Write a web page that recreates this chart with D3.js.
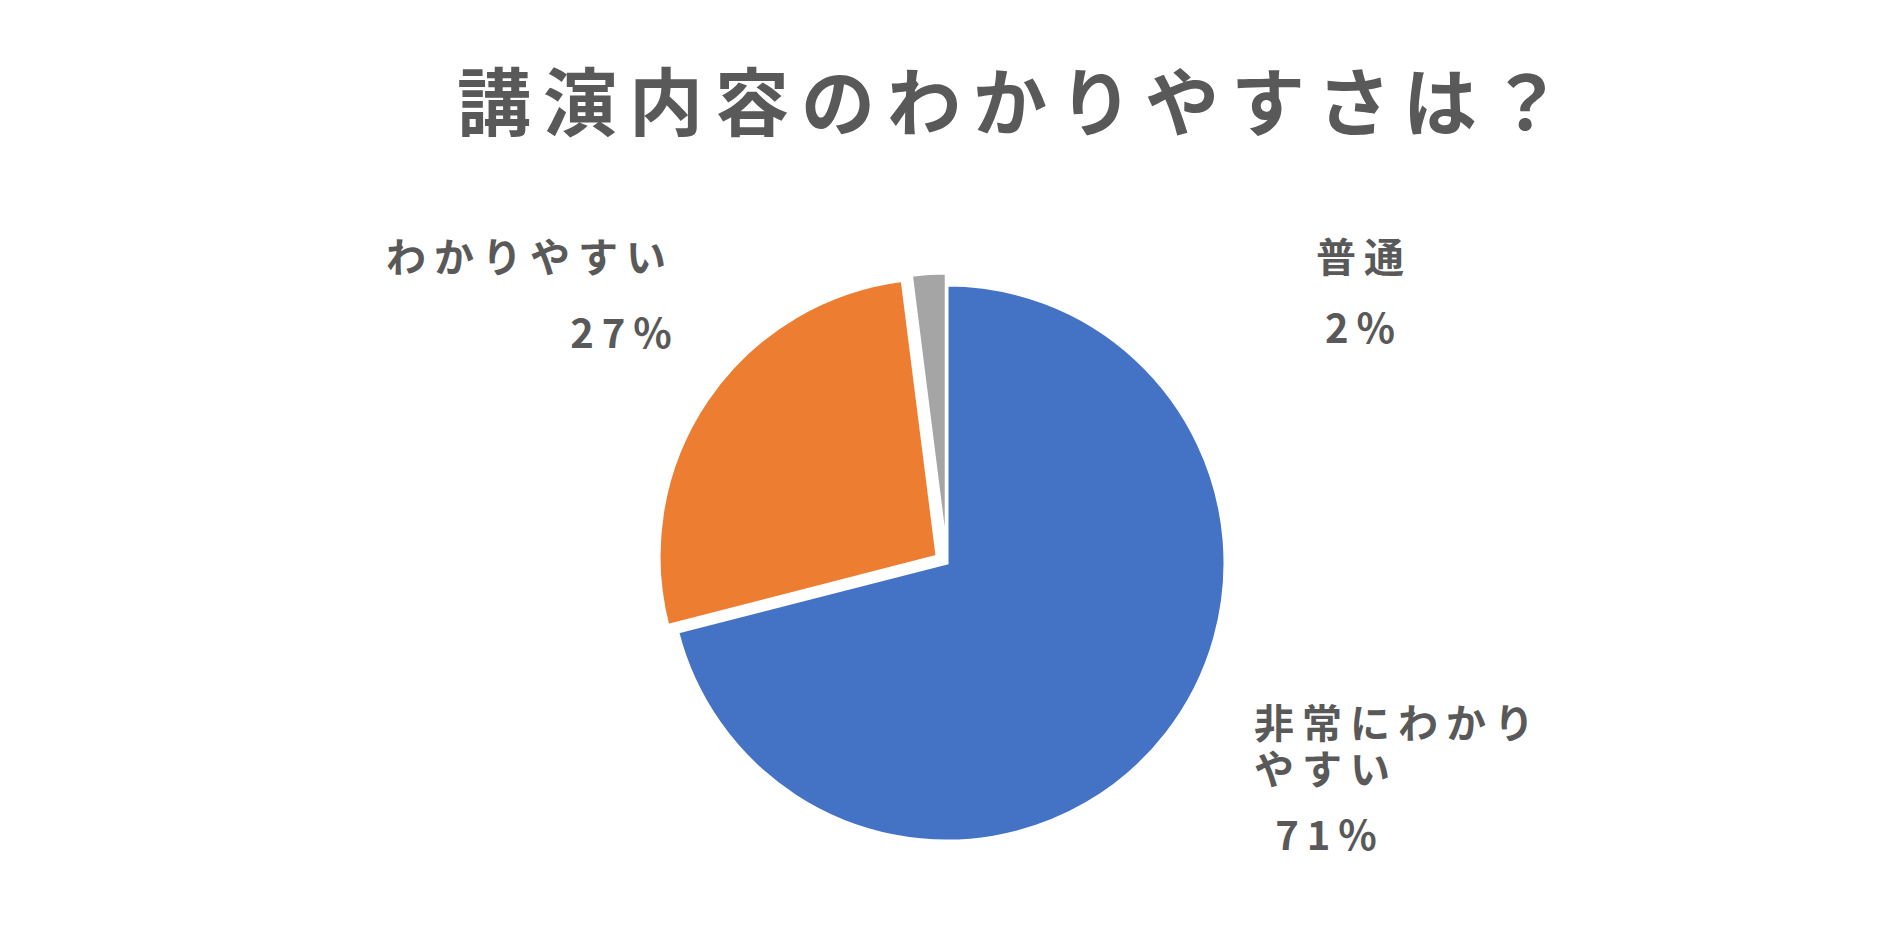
<!DOCTYPE html>
<html><head><meta charset="utf-8">
<script src="https://cdn.jsdelivr.net/npm/d3@7"></script>
<style>body{margin:0;background:#fff}text{font-family:"Noto Sans CJK JP",sans-serif;fill:#595959;font-weight:bold}</style>
</head><body><div class="chart"></div>
<script>
const categories = ["非常にわかりやすい", "わかりやすい", "普通"];
const values = [71, 27, 2];
const colors = ["#4472C4", "#ED7D31", "#A5A5A5"];
const explode = [0, 12, 12];

const W = 1891, H = 935, cx = 947, cy = 563, R = 278;
const svg = d3.select(".chart").append("svg").attr("width", W).attr("height", H);

svg.append("text").attr("x", 1016).attr("y", 130).attr("text-anchor", "middle")
  .style("font-size", "74px").style("letter-spacing", "12px").text("講演内容のわかりやすさは？");

const pie = d3.pie().sort(null).value(d => d);
const arc = d3.arc().innerRadius(0).outerRadius(R);
const arcs = pie(values);

svg.append("g").attr("transform", `translate(${cx},${cy})`)
  .selectAll("path").data(arcs).enter().append("path")
  .attr("d", arc)
  .attr("fill", (d, i) => colors[i])
  .attr("stroke", "#fff").attr("stroke-width", 3)
  .attr("transform", (d, i) => {
    const a = (d.startAngle + d.endAngle) / 2;
    return `translate(${Math.sin(a) * explode[i]},${-Math.cos(a) * explode[i]})`;
  });

const labels = [
  {lines: ["非常にわかり", "やすい"], x: 1254, y: 738, anchor: "start", px: 1330, py: 850},
  {lines: ["わかりやすい"], x: 530, y: 272, anchor: "middle", px: 625, py: 348},
  {lines: ["普通"], x: 1364, y: 272, anchor: "middle", px: 1364, py: 343}
];
labels.forEach((l, i) => {
  l.lines.forEach((s, j) => {
    svg.append("text").attr("x", l.x).attr("y", l.y + j * 46).attr("text-anchor", l.anchor)
      .style("font-size", "40px").style("letter-spacing", "8px").text(s);
  });
  svg.append("text").attr("x", l.px).attr("y", l.py).attr("text-anchor", "middle")
    .style("font-size", "40px").style("letter-spacing", "8px").text(values[i] + "%");
});
</script></body></html>
